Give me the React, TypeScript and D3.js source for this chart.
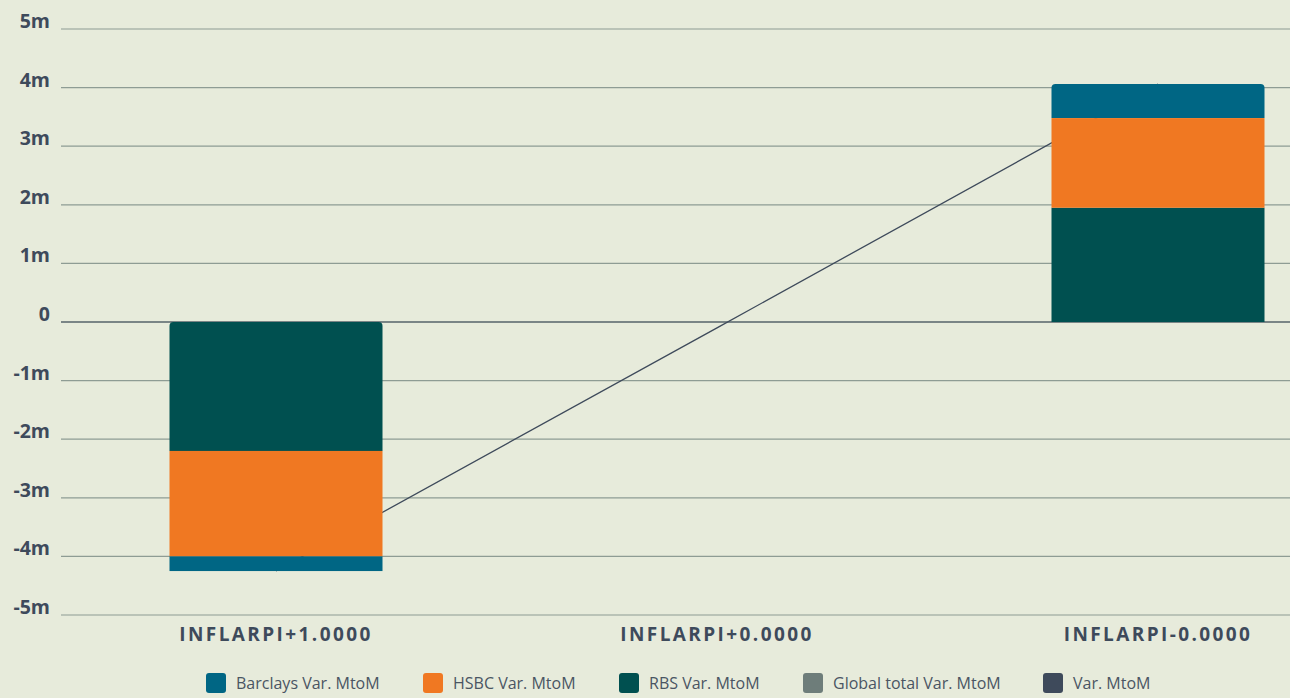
import * as d3 from 'd3';

const categories = ['INFLARPI+1.0000', 'INFLARPI+0.0000', 'INFLARPI-0.0000'];
const seriesNames = ['Barclays Var. MtoM', 'HSBC Var. MtoM', 'RBS Var. MtoM', 'Global total Var. MtoM', 'Var. MtoM'];
const seriesColors = ['#006684', '#f07822', '#005050', '#6e7d7a', '#3e4a5b'];
const barclays = [-0.25, 0, 0.58];
const hsbc = [-1.8, 0, 1.53];
const rbs = [-2.2, 0, 1.95];
const totalLine = [-4.25, -0.1, 4.06];
const yTicks = [5, 4, 3, 2, 1, 0, -1, -2, -3, -4, -5];

const W = 1290;
const H = 698;
const FONT = '"Open Sans", Lato, sans-serif';

const App = () => {
  const x = d3.scaleBand<string>().domain(categories).range([55.5, 1378.5]).padding(0);
  const y = d3.scaleLinear().domain([-5, 5]).range([615, 29]);
  const barW = 213;

  // stack order from zero outward: RBS, HSBC, Barclays
  const stackOrder = [
    { vals: rbs, color: seriesColors[2] },
    { vals: hsbc, color: seriesColors[1] },
    { vals: barclays, color: seriesColors[0] },
  ];

  const segs: { x: number; y0: number; y1: number; color: string; top: boolean }[] = [];
  categories.forEach((c, i) => {
    let acc = 0;
    const items = stackOrder.filter((s) => s.vals[i] !== 0);
    items.forEach((s, k) => {
      const a = acc;
      const b = acc + s.vals[i];
      acc = b;
      const cx = (x(c) as number) + x.bandwidth() / 2;
      // topmost segment gets rounded top corners
      const isTop = s.vals[i] > 0 ? k === items.length - 1 : k === 0;
      segs.push({ x: cx - barW / 2, y0: y(Math.max(a, b)), y1: y(Math.min(a, b)), color: s.color, top: isTop });
    });
  });

  const line = d3
    .line<number>()
    .x((_, i) => (x(categories[i]) as number) + x.bandwidth() / 2)
    .y((d) => y(d));

  const roundedTop = (sx: number, sy: number, w: number, h: number, r: number) =>
    `M${sx},${sy + h}V${sy + r}Q${sx},${sy} ${sx + r},${sy}H${sx + w - r}Q${sx + w},${sy} ${sx + w},${sy + r}V${sy + h}Z`;

  const legendX = [206, 423, 619, 803, 1043];

  return (
    <svg width={W} height={H} style={{ display: 'block', position: 'absolute', left: 0, top: 0, background: '#e7ebdb' }}>
      <rect width={W} height={H} fill='#e7ebdb' />
      {yTicks.map((t) => (
        <g key={t}>
          <line x1={61} x2={W} y1={y(t)} y2={y(t)} stroke={t === 0 ? '#56636a' : '#8e9c94'} strokeWidth={t === 0 ? 1.5 : 1.2} />
          <text x={50} y={y(t) - 1} textAnchor='end' fontFamily={FONT} fontWeight={700} fontSize={19.5} fill='#3e4a5b'>
            {t === 0 ? '0' : `${t}m`}
          </text>
        </g>
      ))}
      <path d={line(totalLine) || ''} fill='none' stroke='#3e4a5b' strokeWidth={1.3} />
      {segs.map((s, i) =>
        s.top ? (
          <path key={i} d={roundedTop(s.x, s.y0, barW, s.y1 - s.y0, 4)} fill={s.color} />
        ) : (
          <rect key={i} x={s.x} y={s.y0} width={barW} height={s.y1 - s.y0} fill={s.color} />
        )
      )}
      {categories.map((c) => (
        <text
          key={c}
          x={(x(c) as number) + x.bandwidth() / 2}
          y={641}
          textAnchor='middle'
          fontFamily={FONT}
          fontWeight={700}
          fontSize={19}
          letterSpacing={2.4}
          fill='#3e4a5b'
        >
          {c}
        </text>
      ))}
      {seriesNames.map((n, i) => (
        <g key={n} transform={`translate(${legendX[i]},673)`}>
          <rect width={20} height={20} rx={3} fill={seriesColors[i]} />
          <text x={30} y={16} fontFamily={FONT} fontSize={16} fill='#4a5563'>
            {n}
          </text>
        </g>
      ))}
    </svg>
  );
};

export default App;
